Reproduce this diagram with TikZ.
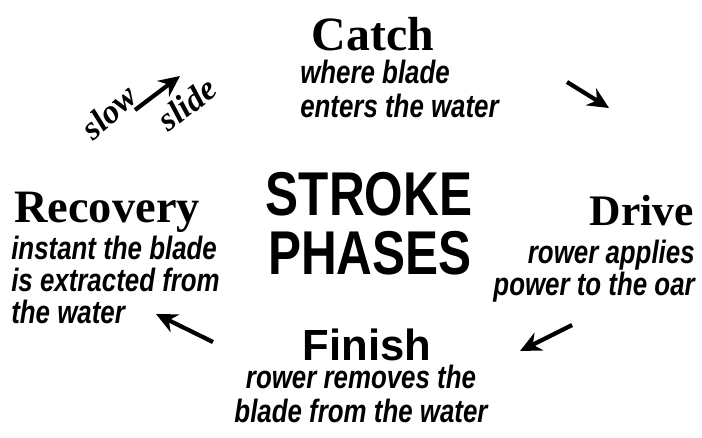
\documentclass[tikz,border=0pt]{standalone}
\usepackage{fontspec}
\setmainfont{Liberation Serif}
\newfontfamily\condsans{Liberation Sans}[FakeStretch=0.8]
\newfontfamily\plainsans{Liberation Sans}
\usetikzlibrary{arrows.meta}
\tikzset{
  phase/.style={font=\bfseries\fontsize{33pt}{36pt}\selectfont, inner sep=0pt},
  note/.style={font=\condsans\bfseries\itshape\fontsize{23pt}{22.5pt}\selectfont, inner sep=0pt},
  widenote/.style={note, font=\condsans\bfseries\itshape\fontsize{23pt}{24pt}\selectfont},
  bigword/.style={font=\condsans\bfseries\fontsize{44pt}{48pt}\selectfont, inner sep=0pt},
  hand/.style={font=\bfseries\itshape\fontsize{24pt}{26pt}\selectfont, inner sep=0pt},
  flow/.style={line width=3pt, -{Stealth[length=15pt,width=14pt]}}
}
\begin{document}
\begin{tikzpicture}[x=0.025cm,y=-0.025cm]
        \useasboundingbox[fill=white] (0,0) rectangle (702,437);
        % las cuatro fases
        \node[phase, font=\bfseries\fontsize{34pt}{36pt}\selectfont, anchor=base] (catch) at (373,50) {Catch};
        \node[widenote, anchor=base west, align=left] (catchtxt) at (300,117) {where blade\\enters the water};
        \node[phase, anchor=base west] (recovery) at (14,222) {Recovery};
        \node[note, anchor=base west, align=left] (recoverytxt) at (11,323) {instant the blade\\is extracted from\\the water};
        \node[phase, font=\bfseries\fontsize{31pt}{34pt}\selectfont, anchor=base east] (drive) at (694,225) {Drive};
        \node[note, anchor=base east, align=right] (drivetxt) at (695,295) {rower applies\\power to the oar};
        \node[phase, font=\plainsans\bfseries\fontsize{31pt}{34pt}\selectfont, anchor=base] (finish) at (367,360) {Finish};
        \node[widenote, anchor=base, align=center] (finishtxt) at (361,422) {rower removes the\\blade from the water};
        % titulo central
        \node[bigword] (stroke) at (369,194) {STROKE};
        \node[bigword] (phases) at (370,253) {PHASES};
        % flechas
        \coordinate (slowa) at (135,110);
        \coordinate (slowb) at (180,76);
        \coordinate (catcha) at (567,82);
        \coordinate (catchb) at (609,108);
        \coordinate (drivea) at (572,325);
        \coordinate (driveb) at (520,351);
        \coordinate (finisha) at (213,342);
        \coordinate (finishb) at (156,314);
        \draw[flow] (slowa) -- (slowb);
        \draw[flow] (catcha) -- (catchb);
        \draw[flow] (drivea) -- (driveb);
        \draw[flow] (finisha) -- (finishb);
        \node[hand, rotate=42] (slow) at (109,112) {slow};
        \node[hand, rotate=38] (slide) at (187,104) {slide};
\end{tikzpicture}
\end{document}
